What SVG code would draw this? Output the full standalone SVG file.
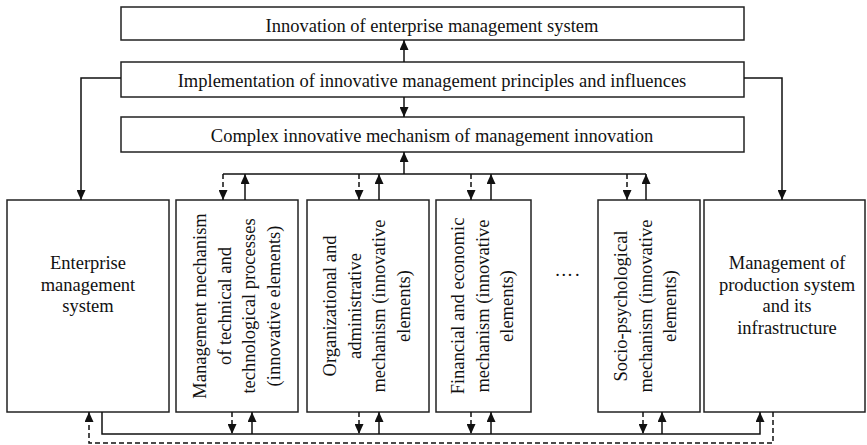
<svg xmlns="http://www.w3.org/2000/svg" width="867" height="445" viewBox="0 0 867 445">
<style>
.box{fill:#fff;stroke:#222;stroke-width:1.5}
.t{font-family:"Liberation Serif","Times New Roman",serif;font-size:18.5px;fill:#111}
.c{text-anchor:middle}
.ln{fill:none;stroke:#111;stroke-width:1.5}
.ds{fill:none;stroke:#111;stroke-width:1.5;stroke-dasharray:5,3}
</style>
<defs>
<marker id="ah" markerUnits="userSpaceOnUse" markerWidth="10" markerHeight="9" refX="10" refY="4.5" orient="auto">
<path d="M0,0 L10,4.5 L0,9 z" fill="#111"/>
</marker>
</defs>
<rect width="867" height="445" fill="#fff"/>
<g id="n-innovation">
<rect class="box" x="121" y="7" width="623" height="33"/>
<text class="t c" x="432" y="32">Innovation of enterprise management system</text>
</g>
<g id="n-implementation">
<rect class="box" x="121" y="62" width="623" height="35"/>
<text class="t c" x="432" y="87">Implementation of innovative management principles and influences</text>
</g>
<g id="n-complex">
<rect class="box" x="121" y="117" width="623" height="35"/>
<text class="t c" x="432" y="142">Complex innovative mechanism of management innovation</text>
</g>
<g id="n-enterprise">
<rect class="box" x="7" y="200" width="162" height="212"/>
<text class="t c"><tspan x="88" y="269">Enterprise</tspan><tspan x="88" y="290.5">management</tspan><tspan x="88" y="312">system</tspan></text>
</g>
<g id="n-technical">
<rect class="box" x="176" y="200" width="122" height="212"/>
<text class="t c" transform="translate(206,306) rotate(-90)"><tspan x="0" y="0">Management mechanism</tspan><tspan x="0" y="24.5">of technical and</tspan><tspan x="0" y="49">technological processes</tspan><tspan x="0" y="73.5">(innovative elements)</tspan></text>
</g>
<g id="n-organizational">
<rect class="box" x="307" y="200" width="122" height="212"/>
<text class="t c" transform="translate(336,306) rotate(-90)"><tspan x="0" y="0">Organizational and</tspan><tspan x="0" y="24.5">administrative</tspan><tspan x="0" y="49">mechanism (innovative</tspan><tspan x="0" y="73.5">elements)</tspan></text>
</g>
<g id="n-financial">
<rect class="box" x="436" y="200" width="95" height="212"/>
<text class="t c" transform="translate(464,306) rotate(-90)"><tspan x="0" y="0">Financial and economic</tspan><tspan x="0" y="24.5">mechanism (innovative</tspan><tspan x="0" y="49">elements)</tspan></text>
</g>
<g id="n-dots">
<text class="t c" x="568" y="276" letter-spacing="2">….</text>
</g>
<g id="n-socio">
<rect class="box" x="598" y="200" width="102" height="212"/>
<text class="t c" transform="translate(627,306) rotate(-90)"><tspan x="0" y="0">Socio-psychological</tspan><tspan x="0" y="24.5">mechanism (innovative</tspan><tspan x="0" y="49">elements)</tspan></text>
</g>
<g id="n-production">
<rect class="box" x="704" y="200" width="161" height="212"/>
<text class="t c"><tspan x="787" y="269">Management of</tspan><tspan x="787" y="290.5">production system</tspan><tspan x="787" y="312">and its</tspan><tspan x="787" y="333.5">infrastructure</tspan></text>
</g>
<g id="connectors">
<path class="ln" d="M404,62 V40" marker-end="url(#ah)"/>
<path class="ln" d="M404,97 V117" marker-end="url(#ah)"/>
<path class="ln" d="M404,174 V152" marker-end="url(#ah)"/>
<path class="ln" d="M121,78 H81 V200" marker-end="url(#ah)"/>
<path class="ln" d="M744,78 H782 V200" marker-end="url(#ah)"/>
<path class="ln" d="M223,174 H646"/>
<path class="ds" d="M223,174 V200" marker-end="url(#ah)"/>
<path class="ds" d="M359,174 V200" marker-end="url(#ah)"/>
<path class="ds" d="M471,174 V200" marker-end="url(#ah)"/>
<path class="ds" d="M627,174 V200" marker-end="url(#ah)"/>
<path class="ln" d="M245,200 V174" marker-end="url(#ah)"/>
<path class="ln" d="M379,200 V174" marker-end="url(#ah)"/>
<path class="ln" d="M491,200 V174" marker-end="url(#ah)"/>
<path class="ln" d="M646,200 V174" marker-end="url(#ah)"/>
<path class="ln" d="M102,412 V434 H760 V412" marker-end="url(#ah)"/>
<path class="ds" d="M232,412 V434" marker-end="url(#ah)"/>
<path class="ds" d="M359,412 V434" marker-end="url(#ah)"/>
<path class="ds" d="M471,412 V434" marker-end="url(#ah)"/>
<path class="ds" d="M643,412 V434" marker-end="url(#ah)"/>
<path class="ln" d="M252,434 V412" marker-end="url(#ah)"/>
<path class="ln" d="M379,434 V412" marker-end="url(#ah)"/>
<path class="ln" d="M491,434 V412" marker-end="url(#ah)"/>
<path class="ln" d="M662,434 V412" marker-end="url(#ah)"/>
<path class="ds" d="M773,412 V443 H89 V412" marker-end="url(#ah)"/>
</g>
</svg>
